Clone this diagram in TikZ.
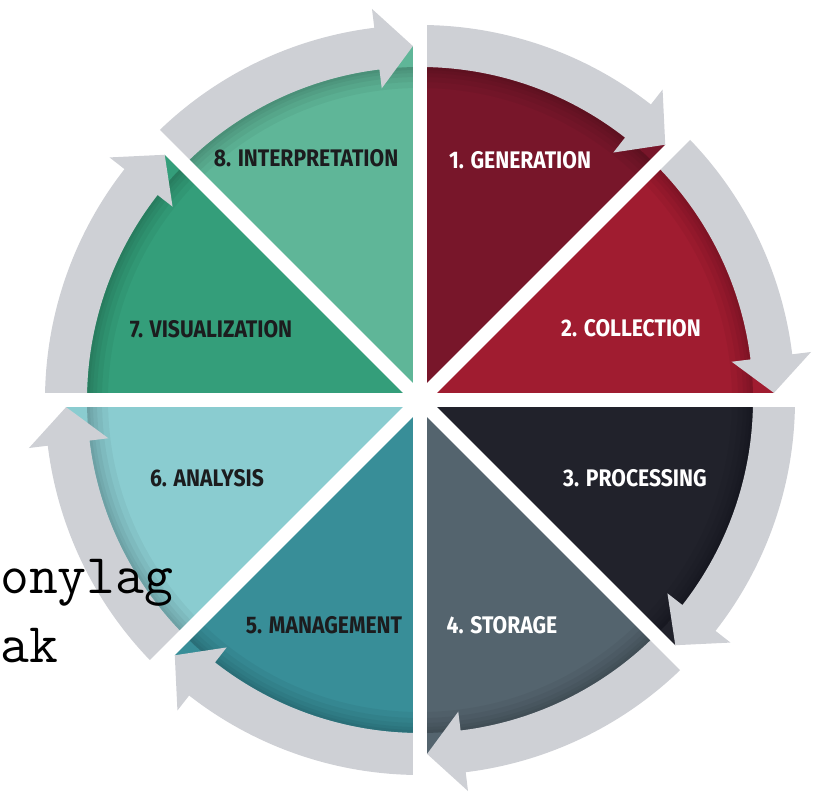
\documentclass[tikz,border=0pt]{standalone}
\usepackage{fontspec}
\usepackage{tikz}
\newfontfamily\stagefont{Fira Sans}
\definecolor{genred}{HTML}{78162A}
\definecolor{colred}{HTML}{A01C30}
\definecolor{procdark}{HTML}{21222B}
\definecolor{storslate}{HTML}{54646E}
\definecolor{mgmtteal}{HTML}{388E98}
\definecolor{analteal}{HTML}{8ACCD0}
\definecolor{visgreen}{HTML}{349E7A}
\definecolor{intgreen}{HTML}{5FB698}
\definecolor{bandgrey}{HTML}{CED0D5}
\definecolor{lbldark}{HTML}{1C1C1E}

\begin{document}
\begin{tikzpicture}[x=1pt, y=1pt,
                    band/.style={fill=bandgrey},
                    rim/.style={fill=black, opacity=0.045, even odd rule},
                    gapline/.style={draw=white, line width=14pt},
                    stage/.style={inner sep=0pt, font=\fontsize{24}{24}\selectfont\stagefont\bfseries},
                    slide/.style={inner sep=0pt, anchor=base west, text=black, font=\fontsize{56}{56}\selectfont\ttfamily}]
                    \useasboundingbox (0, 0) rectangle (813, 798);

                    \begin{scope}[shift={(420, 398)}]
                    \fill[color=genred] (0, 0) -- (90:354) arc[start angle=90, end angle=45, radius=354] -- cycle;
                    \fill[color=colred] (0, 0) -- (45:354) arc[start angle=45, end angle=0, radius=354] -- cycle;
                    \fill[color=procdark] (0, 0) -- (0:354) arc[start angle=0, end angle=-45, radius=354] -- cycle;
                    \fill[color=storslate] (0, 0) -- (-45:354) arc[start angle=-45, end angle=-90, radius=354] -- cycle;
                    \fill[color=mgmtteal] (0, 0) -- (-90:354) arc[start angle=-90, end angle=-135, radius=354] -- cycle;
                    \fill[color=analteal] (0, 0) -- (-135:354) arc[start angle=-135, end angle=-180, radius=354] -- cycle;
                    \fill[color=visgreen] (0, 0) -- (180:354) arc[start angle=180, end angle=135, radius=354] -- cycle;
                    \fill[color=intgreen] (0, 0) -- (135:354) arc[start angle=135, end angle=90, radius=354] -- cycle;

                    \fill[rim] (0, 0) circle (333) circle (312);
                    \fill[rim] (0, 0) circle (333) circle (318);
                    \fill[rim] (0, 0) circle (333) circle (323);
                    \fill[rim] (0, 0) circle (333) circle (327);
                    \fill[rim] (0, 0) circle (333) circle (330);

                    \fill[band] (90:333) -- (90:375) arc[start angle=90, end angle=52, radius=375] -- (52:394) -- (46.15:354) -- (52:314) -- (52:333) arc[start angle=52, end angle=90, radius=333] -- cycle;
                    \fill[band] (45:333) -- (45:375) arc[start angle=45, end angle=7, radius=375] -- (7:394) -- (1.15:354) -- (7:314) -- (7:333) arc[start angle=7, end angle=45, radius=333] -- cycle;
                    \fill[band] (0:333) -- (0:375) arc[start angle=0, end angle=-38, radius=375] -- (-38:394) -- (-43.85:354) -- (-38:314) -- (-38:333) arc[start angle=-38, end angle=0, radius=333] -- cycle;
                    \fill[band] (-45:333) -- (-45:375) arc[start angle=-45, end angle=-83, radius=375] -- (-83:394) -- (-88.85:354) -- (-83:314) -- (-83:333) arc[start angle=-83, end angle=-45, radius=333] -- cycle;
                    \fill[band] (-90:333) -- (-90:375) arc[start angle=-90, end angle=-128, radius=375] -- (-128:394) -- (-133.85:354) -- (-128:314) -- (-128:333) arc[start angle=-128, end angle=-90, radius=333] -- cycle;
                    \fill[band] (-135:333) -- (-135:375) arc[start angle=-135, end angle=-173, radius=375] -- (-173:394) -- (-178.85:354) -- (-173:314) -- (-173:333) arc[start angle=-173, end angle=-135, radius=333] -- cycle;
                    \fill[band] (180:333) -- (180:375) arc[start angle=180, end angle=142, radius=375] -- (142:394) -- (136.15:354) -- (142:314) -- (142:333) arc[start angle=142, end angle=180, radius=333] -- cycle;
                    \fill[band] (135:333) -- (135:375) arc[start angle=135, end angle=97, radius=375] -- (97:394) -- (91.15:354) -- (97:314) -- (97:333) arc[start angle=97, end angle=135, radius=333] -- cycle;

                    \draw[gapline] (0:400) -- (180:400);
                    \draw[gapline] (45:400) -- (225:400);
                    \draw[gapline] (90:400) -- (270:400);
                    \draw[gapline] (135:400) -- (315:400);
                    \end{scope}

                    \node[stage, text=white] (generation) at (520, 638) {\scalebox{0.88}[1]{1. GENERATION}};
                    \node[stage, text=white] (collection) at (631, 470) {\scalebox{0.88}[1]{2. COLLECTION}};
                    \node[stage, text=white] (processing) at (635, 320) {\scalebox{0.88}[1]{3. PROCESSING}};
                    \node[stage, text=white] (storage) at (502, 173) {\scalebox{0.88}[1]{4. STORAGE}};
                    \node[stage, text=lbldark] (management) at (324, 173) {\scalebox{0.88}[1]{5. MANAGEMENT}};
                    \node[stage, text=lbldark] (analysis) at (207, 320) {\scalebox{0.88}[1]{6. ANALYSIS}};
                    \node[stage, text=lbldark] (visualization) at (211, 469) {\scalebox{0.88}[1]{7. VISUALIZATION}};
                    \node[stage, text=lbldark] (interpretation) at (306, 640) {\scalebox{0.88}[1]{8. INTERPRETATION}};

                    \node[slide] (slideone) at (0, 205) {onylag};
                    \node[slide] (slidetwo) at (0, 136) {ak};
                \end{tikzpicture}
\end{document}
